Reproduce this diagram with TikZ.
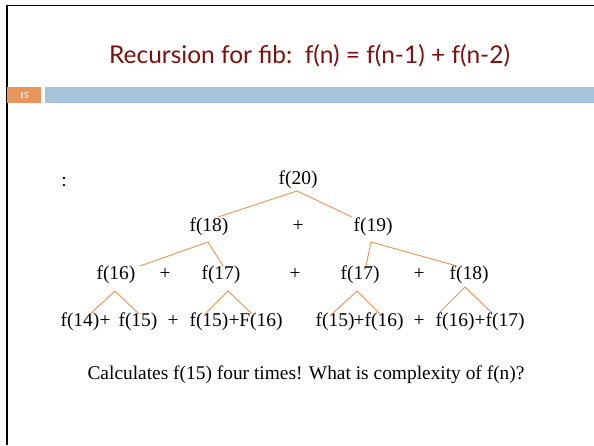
\documentclass[tikz,border=0pt]{standalone}
\usepackage{fontspec}
\setmainfont{Liberation Serif}
\newfontfamily\titlefont{Lato}
\definecolor{titlered}{RGB}{128,16,16}
\definecolor{orbox}{RGB}{232,150,92}
\definecolor{bluebar}{RGB}{166,195,219}
\definecolor{lineor}{RGB}{238,146,82}
\begin{document}
\begin{tikzpicture}[x=1pt,y=-1pt,
  t/.style={inner sep=0pt, font=\fontsize{19.5}{22}\selectfont, text height=13.3pt, text depth=3.5pt},
  edge/.style={draw=lineor, line width=0.9pt}]
\useasboundingbox (0,0) rectangle (594,445);
\fill[white] (0,0) rectangle (594,445);
% frame
\draw[line width=1.8pt] (7,445) -- (7,5.5) -- (594,5.5);
% title
\node[anchor=base, inner sep=0pt, font=\titlefont\fontsize{24.5}{28}\selectfont, text=titlered] (title) at (309.5,63) {Recursion for fib:\ \ f(n) = f(n-1) + f(n-2)};
% header bar
\node[fill=orbox, minimum width=34pt, minimum height=16pt, anchor=north west, inner sep=0pt, text=white, font=\fontsize{9}{10}\selectfont\bfseries] (num) at (7,87) {15};
\fill[bluebar] (45,87) rectangle (594,103);
% tree
\node[t] (colon) at (64,182) {:};
\node[t] (f20) at (298,180) {f(20)};
\node[t] (f18) at (209,227) {f(18)};
\node[t] (p1) at (298,227) {+};
\node[t] (f19) at (373,227) {f(19)};
\node[t] (f16) at (116,275) {f(16)};
\node[t] (p2) at (165,275) {+};
\node[t] (f17a) at (221,275) {f(17)};
\node[t] (p3) at (295,275) {+};
\node[t] (f17b) at (360,275) {f(17)};
\node[t] (p4) at (419,275) {+};
\node[t] (f18b) at (469,275) {f(18)};
\node[t] (f14) at (80,322) {f(14)};
\node[t] (p5) at (105,322) {+};
\node[t] (f15a) at (138,322) {f(15)};
\node[t] (p6) at (173,322) {+};
\node[t] (f15b) at (209,322) {f(15)};
\node[t] (p7) at (234,322) {+};
\node[t] (F16) at (261,322) {F(16)};
\node[t] (f15c) at (335,322) {f(15)};
\node[t] (p8) at (359,322) {+};
\node[t] (f16a) at (384,322) {f(16)};
\node[t] (p9) at (419,322) {+};
\node[t] (f16b) at (455,322) {f(16)};
\node[t] (p10) at (480,322) {+};
\node[t] (f17c) at (505,322) {f(17)};
% edges
\draw[edge] ([shift={(9,-10)}]f18.center) -- ([shift={(-1,11)}]f20.center) -- ([shift={(-21,-10)}]f19.center);
\draw[edge] ([shift={(24,-9)}]f16.center) -- ([shift={(-1,15)}]f18.center) -- ([shift={(2,-9)}]f17a.center);
\draw[edge] ([shift={(6,-9)}]f17b.center) -- ([shift={(-2,15)}]f19.center) -- ([shift={(-12,-9)}]f18b.center);
\draw[edge] ([shift={(10,-8)}]f14.center) -- ([shift={(-1,16)}]f16.center) -- ([shift={(1,-8)}]f15a.center);
\draw[edge] ([shift={(-4,-8)}]f15b.center) -- ([shift={(7,16)}]f17a.center) -- ([shift={(-9,-8)}]F16.center);
\draw[edge] ([shift={(-3,-8)}]f15c.center) -- ([shift={(-3,16)}]f17b.center) -- ([shift={(-4,-8)}]f16a.center);
\draw[edge] ([shift={(-15,-10)}]f16b.center) -- ([shift={(-4,12)}]f18b.center) -- ([shift={(-14,-10)}]f17c.center);
% note
\node[anchor=base, inner sep=0pt, font=\fontsize{19.4}{22}\selectfont] (note) at (306,379) {Calculates f(15) four times! What is complexity of f(n)?};
\end{tikzpicture}
\end{document}
